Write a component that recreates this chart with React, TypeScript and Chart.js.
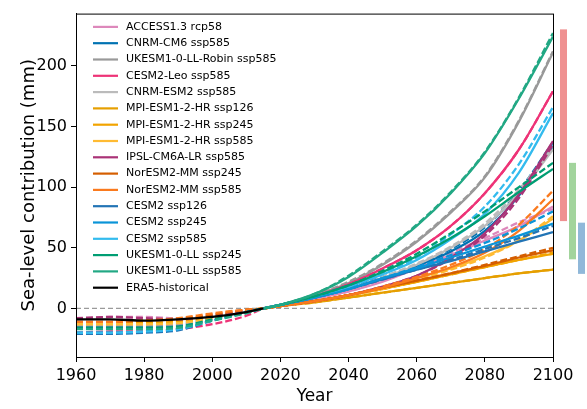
import { useEffect, useRef } from 'react';
import { Chart, registerables } from 'chart.js';

Chart.register(...registerables);

// Sample years: historical part (1960-2015) and projection part (2015-2100)
const HIST_YEARS = [1960, 1970, 1980, 1990, 2000, 2010, 2015];
const PROJ_YEARS = [2015, 2020, 2030, 2040, 2050, 2060, 2070, 2080, 2090, 2100];

const X_TICKS = [1960, 1980, 2000, 2020, 2040, 2060, 2080, 2100];
const Y_TICKS = [0, 50, 100, 150, 200];

// Sea-level contribution (mm) per model run
const ACCESS_HIST = [-9, -7, -7, -8, -6, -2, 0];
const ACCESS_PROJ = [0, 3, 8, 14, 22, 33, 44, 56, 68, 84];
const ACCESS_ALT = [0, 3, 8, 14, 23, 34, 46, 58, 71, 82];

const CNRMCM6_HIST = [-15, -15, -15, -14, -9, -3, 0];
const CNRMCM6_PROJ = [0, 3, 9, 16, 25, 35, 47, 64, 93, 134];
const CNRMCM6_ALT = [0, 3, 9, 17, 26, 36, 49, 67, 97, 137];

const ROBIN_HIST = [-14, -14, -14, -13, -8, -3, 0];
const ROBIN_PROJ = [0, 3, 11, 21, 36, 55, 79, 108, 154, 211];
const ROBIN_ALT = [0, 3, 11, 22, 37, 56, 80, 109, 155, 212];

const LEO_HIST = [-20, -19, -19, -17, -13, -6, 0];
const LEO_PROJ = [0, 3, 10, 20, 33, 48, 68, 95, 131, 179];
const LEO_ALT = [0, 3, 10, 20, 33, 48, 68, 95, 131, 179];

const CNRMESM2_HIST = [-13, -13, -13, -12, -8, -3, 0];
const CNRMESM2_PROJ = [0, 3, 9, 16, 25, 36, 50, 68, 95, 131];
const CNRMESM2_ALT = [0, 3, 9, 16, 26, 37, 51, 70, 98, 133];

const MPI126_HIST = [-12, -12, -12, -11, -7, -2, 0];
const MPI126_PROJ = [0, 2, 5, 9, 13, 17, 21, 25, 29, 32];
const MPI126_ALT = [0, 2, 5, 9, 13, 17, 21, 25, 29, 32];

const MPI245_HIST = [-12, -12, -12, -11, -7, -2, 0];
const MPI245_PROJ = [0, 2, 6, 11, 16, 22, 28, 34, 40, 45];
const MPI245_ALT = [0, 2, 6, 11, 16, 22, 28, 34, 40, 46];

const MPI585_HIST = [-13, -13, -13, -12, -8, -2, 0];
const MPI585_PROJ = [0, 2, 6, 11, 17, 25, 33, 43, 56, 74];
const MPI585_ALT = [0, 2, 6, 11, 16, 24, 32, 42, 56, 76];

const IPSL_HIST = [-8, -7, -8, -9, -6, -2, 0];
const IPSL_PROJ = [0, 2, 6, 11, 18, 27, 42, 62, 94, 138];
const IPSL_ALT = [0, 2, 6, 11, 18, 27, 41, 60, 91, 135];

const NOR245_HIST = [-11, -11, -10, -9, -5, -1, 0];
const NOR245_PROJ = [0, 2, 6, 11, 17, 23, 29, 35, 42, 48];
const NOR245_ALT = [0, 2, 6, 11, 17, 23, 29, 36, 43, 50];

const NOR585_HIST = [-11, -11, -10, -8, -4, -1, 0];
const NOR585_PROJ = [0, 2, 6, 11, 17, 25, 34, 46, 64, 90];
const NOR585_ALT = [0, 2, 6, 11, 18, 26, 36, 49, 69, 97];

const CESM126_HIST = [-21, -21, -20, -18, -10, -3, 0];
const CESM126_PROJ = [0, 3, 9, 16, 24, 32, 39, 47, 55, 63];
const CESM126_ALT = [0, 3, 9, 16, 24, 32, 40, 49, 58, 68];

const CESM245_HIST = [-20, -20, -19, -17, -10, -3, 0];
const CESM245_PROJ = [0, 3, 9, 16, 25, 33, 42, 51, 60, 70];
const CESM245_ALT = [0, 3, 9, 16, 25, 34, 44, 54, 66, 80];

const CESM585_HIST = [-20, -20, -19, -17, -10, -3, 0];
const CESM585_PROJ = [0, 3, 10, 18, 28, 40, 57, 78, 112, 161];
const CESM585_ALT = [0, 3, 10, 19, 29, 42, 61, 84, 119, 166];

const UK245_HIST = [-16, -16, -16, -15, -9, -3, 0];
const UK245_PROJ = [0, 3, 10, 19, 30, 43, 58, 76, 96, 115];
const UK245_ALT = [0, 3, 10, 19, 31, 45, 62, 80, 100, 120];

const UK585_HIST = [-17, -17, -17, -16, -10, -4, 0];
const UK585_PROJ = [0, 3, 12, 26, 46, 68, 95, 128, 173, 224];
const UK585_ALT = [0, 3, 12, 27, 47, 69, 96, 129, 174, 227];

const ERA5_HIST = [-9, -9, -10, -9, -7, -3, 0];

// Ranges shown as bars to the right of the axes (mm): [low, high]
const RANGE_RED = [72, 230];
const RANGE_GREEN = [40.5, 120];
const RANGE_BLUE = [28.5, 70.7];

const MODELS = [
  { name: 'ACCESS1.3 rcp58', color: '#dd88bb', hist: ACCESS_HIST, proj: ACCESS_PROJ, alt: ACCESS_ALT },
  { name: 'CNRM-CM6 ssp585', color: '#0072b2', hist: CNRMCM6_HIST, proj: CNRMCM6_PROJ, alt: CNRMCM6_ALT },
  { name: 'UKESM1-0-LL-Robin ssp585', color: '#999999', hist: ROBIN_HIST, proj: ROBIN_PROJ, alt: ROBIN_ALT },
  { name: 'CESM2-Leo ssp585', color: '#ee3377', hist: LEO_HIST, proj: LEO_PROJ, alt: LEO_ALT },
  { name: 'CNRM-ESM2 ssp585', color: '#bbbbbb', hist: CNRMESM2_HIST, proj: CNRMESM2_PROJ, alt: CNRMESM2_ALT },
  { name: 'MPI-ESM1-2-HR ssp126', color: '#e69f00', hist: MPI126_HIST, proj: MPI126_PROJ, alt: MPI126_ALT },
  { name: 'MPI-ESM1-2-HR ssp245', color: '#f2a400', hist: MPI245_HIST, proj: MPI245_PROJ, alt: MPI245_ALT },
  { name: 'MPI-ESM1-2-HR ssp585', color: '#ffbb33', hist: MPI585_HIST, proj: MPI585_PROJ, alt: MPI585_ALT },
  { name: 'IPSL-CM6A-LR ssp585', color: '#aa3377', hist: IPSL_HIST, proj: IPSL_PROJ, alt: IPSL_ALT },
  { name: 'NorESM2-MM ssp245', color: '#d55e00', hist: NOR245_HIST, proj: NOR245_PROJ, alt: NOR245_ALT },
  { name: 'NorESM2-MM ssp585', color: '#fa7a1e', hist: NOR585_HIST, proj: NOR585_PROJ, alt: NOR585_ALT },
  { name: 'CESM2 ssp126', color: '#2274b5', hist: CESM126_HIST, proj: CESM126_PROJ, alt: CESM126_ALT },
  { name: 'CESM2 ssp245', color: '#0a94d8', hist: CESM245_HIST, proj: CESM245_PROJ, alt: CESM245_ALT },
  { name: 'CESM2 ssp585', color: '#33bbee', hist: CESM585_HIST, proj: CESM585_PROJ, alt: CESM585_ALT },
  { name: 'UKESM1-0-LL ssp245', color: '#009e73', hist: UK245_HIST, proj: UK245_PROJ, alt: UK245_ALT },
  { name: 'UKESM1-0-LL ssp585', color: '#22a884', hist: UK585_HIST, proj: UK585_PROJ, alt: UK585_ALT },
];

const FONT = '"DejaVu Sans", sans-serif';

function pts(xs: number[], ys: number[]) {
  return xs.map((x, i) => ({ x, y: ys[i] }));
}

function buildDatasets() {
  const ds: any[] = [];
  let order = 1000;
  MODELS.forEach((m) => {
    // dashed: historical run continued with the alternative projection
    const dashed = pts(HIST_YEARS, m.hist).concat(pts(PROJ_YEARS.slice(1), m.alt.slice(1)));
    ds.push({
      label: m.name + ' (dashed)',
      data: dashed,
      borderColor: m.color,
      borderDash: [7, 3],
      order: order--,
    });
    ds.push({
      label: m.name,
      data: pts(PROJ_YEARS, m.proj),
      borderColor: m.color,
      order: order--,
    });
  });
  ds.push({
    label: 'ERA5-historical',
    data: pts(HIST_YEARS, ERA5_HIST),
    borderColor: '#000000',
    order: order--,
  });
  return ds;
}

const frameAndExtras = {
  id: 'frameAndExtras',
  beforeDatasetsDraw(chart: any) {
    const { ctx, chartArea, scales } = chart;
    const y0 = scales.y.getPixelForValue(0);
    ctx.save();
    ctx.strokeStyle = '#9a9a9a';
    ctx.lineWidth = 1.3;
    ctx.setLineDash([5, 3]);
    ctx.beginPath();
    ctx.moveTo(chartArea.left, y0);
    ctx.lineTo(chartArea.right, y0);
    ctx.stroke();
    ctx.restore();
  },
  afterDraw(chart: any) {
    const { ctx, chartArea, scales } = chart;
    ctx.save();
    // axes box
    ctx.strokeStyle = '#000';
    ctx.lineWidth = 1;
    ctx.strokeRect(chartArea.left + 0.5, chartArea.top + 0.5, chartArea.right - chartArea.left, chartArea.bottom - chartArea.top);

    // legend
    const entries = MODELS.map((m) => ({ name: m.name, color: m.color })).concat([
      { name: 'ERA5-historical', color: '#000000' },
    ]);
    ctx.font = '11px ' + FONT;
    ctx.textBaseline = 'middle';
    ctx.textAlign = 'left';
    entries.forEach((e, i) => {
      const y = chartArea.top + 13.3 + i * 16.3;
      ctx.strokeStyle = e.color;
      ctx.lineWidth = 2.2;
      ctx.setLineDash([]);
      ctx.beginPath();
      ctx.moveTo(chartArea.left + 17, y);
      ctx.lineTo(chartArea.left + 42, y);
      ctx.stroke();
      ctx.fillStyle = '#000';
      ctx.fillText(e.name, chartArea.left + 50, y);
    });

    // range bars beside the axes
    const bars = [
      { r: RANGE_RED, color: '#ef9191', x: chartArea.right + 7 },
      { r: RANGE_GREEN, color: '#a2d49c', x: chartArea.right + 16 },
      { r: RANGE_BLUE, color: '#90b8d9', x: chartArea.right + 25 },
    ];
    bars.forEach((b) => {
      const top = scales.y.getPixelForValue(b.r[1]);
      const bot = scales.y.getPixelForValue(b.r[0]);
      ctx.fillStyle = b.color;
      ctx.fillRect(b.x, top, 7, bot - top);
    });
    ctx.restore();
  },
};

export default function App() {
  const ref = useRef<HTMLCanvasElement | null>(null);

  useEffect(() => {
    if (!ref.current) return;
    const tickFont = { family: FONT, size: 16 };
    const chart = new Chart(ref.current, {
      type: 'line',
      data: { datasets: buildDatasets() },
      options: {
        animation: false,
        responsive: false,
        devicePixelRatio: 1,
        layout: { padding: { top: 9, right: 34, left: 0, bottom: 0 } },
        plugins: { legend: { display: false }, tooltip: { enabled: false } },
        elements: {
          point: { radius: 0 },
          line: { borderWidth: 2.3, cubicInterpolationMode: 'monotone', fill: false },
        },
        scales: {
          x: {
            type: 'linear',
            min: 1960,
            max: 2100,
            afterFit: (s: any) => {
              s.height = 52;
            },
            afterBuildTicks: (s: any) => {
              s.ticks = X_TICKS.map((v) => ({ value: v }));
            },
            ticks: { font: tickFont, color: '#000', padding: 4, maxRotation: 0, callback: (v: any) => String(v) },
            grid: { drawOnChartArea: false, drawTicks: true, tickLength: 5, tickColor: '#000', tickWidth: 1 },
            border: { display: true, color: '#000', width: 1 },
            title: { display: true, text: 'Year', font: { family: FONT, size: 17 }, color: '#000', padding: { top: 0, bottom: 2 } },
          },
          y: {
            type: 'linear',
            min: -40,
            max: 243,
            afterFit: (s: any) => {
              s.width = 76;
            },
            afterBuildTicks: (s: any) => {
              s.ticks = Y_TICKS.map((v) => ({ value: v }));
            },
            ticks: { font: tickFont, color: '#000', padding: 4, callback: (v: any) => String(v) },
            grid: { drawOnChartArea: false, drawTicks: true, tickLength: 5, tickColor: '#000', tickWidth: 1 },
            border: { display: true, color: '#000', width: 1 },
            title: {
              display: true,
              text: 'Sea-level contribution (mm)',
              font: { family: FONT, size: 18 },
              color: '#000',
              padding: { top: 19, bottom: 0 },
            },
          },
        },
      } as any,
      plugins: [frameAndExtras],
    });
    return () => chart.destroy();
  }, []);

  return (
    <div style={{ position: 'absolute', left: 0, top: 0, width: 587, height: 409, background: '#fff' }}>
      <canvas ref={ref} width={587} height={409} style={{ display: 'block' }} />
    </div>
  );
}
